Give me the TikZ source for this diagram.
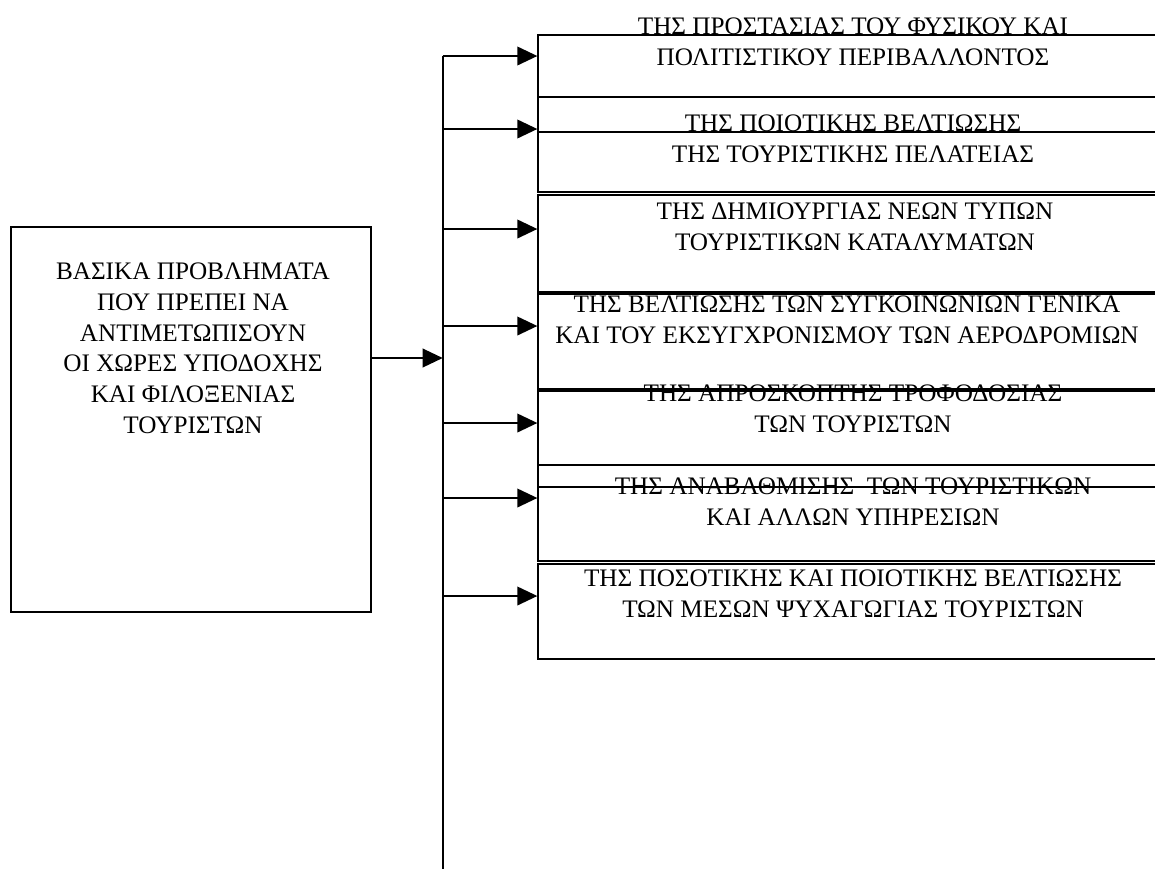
\documentclass[tikz,border=0pt]{standalone}
\usepackage{fontspec}
\setmainfont{Liberation Serif}
\usepackage{tikz}
\usetikzlibrary{arrows.meta}

\begin{document}
\begin{tikzpicture}[x=0.75pt,y=0.75pt,yscale=-1,xscale=1,
  goalbox/.style={draw,line width=1pt,minimum width=472.5pt,inner sep=0pt},
  probbox/.style={draw,line width=1pt,minimum width=270pt,minimum height=288.75pt,inner sep=0pt},
  lbl/.style={anchor=north,inner sep=0pt,align=center,font=\fontsize{18.9}{23}\selectfont},
  branch/.style={line width=1.2pt,-{Triangle[length=15pt,width=14pt]}}]
\useasboundingbox (0,0) rectangle (1155,869);

%Shape: Rectangle
\node[probbox] (lbox) at (191,419.5) {};
%Shape: Rectangle
\node[goalbox,minimum height=72.75pt] (b1) at (853,83.5) {};
%Shape: Rectangle
\node[goalbox,minimum height=71.25pt] (b2) at (853,144.5) {};
%Shape: Rectangle
\node[goalbox,minimum height=72.75pt] (b3) at (853,243.5) {};
%Shape: Rectangle
\node[goalbox,minimum height=71.25pt] (b4) at (853,341.5) {};
%Shape: Rectangle
\node[goalbox,minimum height=72pt] (b5) at (853,439) {};
%Shape: Rectangle
\node[goalbox,minimum height=72pt] (b6) at (853,513) {};
%Shape: Rectangle
\node[goalbox,minimum height=71.25pt] (b7) at (853,611.5) {};

%Straight Lines
\coordinate (j1) at (442.7,56);
\coordinate (j2) at (442.7,129);
\coordinate (j3) at (442.7,229);
\coordinate (j4) at (442.7,326);
\coordinate (j5) at (442.7,423);
\coordinate (j6) at (442.7,498);
\coordinate (j7) at (442.7,596);
\coordinate (jin) at (442.7,358);
\coordinate (bot) at (442.7,869);
\draw[line width=1.2pt] (j1) -- (bot);
\draw[branch] (jin -| lbox.east) -- (jin);
\draw[branch] (j1) -- (j1 -| b1.west);
\draw[branch] (j2) -- (j2 -| b2.west);
\draw[branch] (j3) -- (j3 -| b3.west);
\draw[branch] (j4) -- (j4 -| b4.west);
\draw[branch] (j5) -- (j5 -| b5.west);
\draw[branch] (j6) -- (j6 -| b6.west);
\draw[branch] (j7) -- (j7 -| b7.west);

% Text Node
\node[lbl] (ltext) at (193,263) {ΒΑΣΙΚΑ ΠΡΟΒΛΗΜΑΤΑ\\ΠΟΥ ΠΡΕΠΕΙ ΝΑ\\ΑΝΤΙΜΕΤΩΠΙΣΟΥΝ\\ΟΙ ΧΩΡΕΣ ΥΠΟΔΟΧΗΣ\\ΚΑΙ ΦΙΛΟΞΕΝΙΑΣ\\ΤΟΥΡΙΣΤΩΝ};
% Text Node
\node[lbl] (t1) at (853,18) {ΤΗΣ ΠΡΟΣΤΑΣΙΑΣ ΤΟΥ ΦΥΣΙΚΟΥ ΚΑΙ\\ΠΟΛΙΤΙΣΤΙΚΟΥ ΠΕΡΙΒΑΛΛΟΝΤΟΣ};
% Text Node
\node[lbl] (t2) at (853,115) {ΤΗΣ ΠΟΙΟΤΙΚΗΣ ΒΕΛΤΙΩΣΗΣ\\ΤΗΣ ΤΟΥΡΙΣΤΙΚΗΣ ΠΕΛΑΤΕΙΑΣ};
% Text Node
\node[lbl] (t3) at (855,203) {ΤΗΣ ΔΗΜΙΟΥΡΓΙΑΣ ΝΕΩΝ ΤΥΠΩΝ\\ΤΟΥΡΙΣΤΙΚΩΝ ΚΑΤΑΛΥΜΑΤΩΝ};
% Text Node
\node[lbl] (t4) at (847,296) {ΤΗΣ ΒΕΛΤΙΩΣΗΣ ΤΩΝ ΣΥΓΚΟΙΝΩΝΙΩΝ ΓΕΝΙΚΑ\\ΚΑΙ ΤΟΥ ΕΚΣΥΓΧΡΟΝΙΣΜΟΥ ΤΩΝ ΑΕΡΟΔΡΟΜΙΩΝ};
% Text Node
\node[lbl] (t5) at (853,385) {ΤΗΣ ΑΠΡΟΣΚΟΠΤΗΣ ΤΡΟΦΟΔΟΣΙΑΣ\\ΤΩΝ ΤΟΥΡΙΣΤΩΝ};
% Text Node
\node[lbl] (t6) at (853,478) {ΤΗΣ ΑΝΑΒΑΘΜΙΣΗΣ\ \ ΤΩΝ ΤΟΥΡΙΣΤΙΚΩΝ\\ΚΑΙ ΑΛΛΩΝ ΥΠΗΡΕΣΙΩΝ};
% Text Node
\node[lbl] (t7) at (853,570) {ΤΗΣ ΠΟΣΟΤΙΚΗΣ ΚΑΙ ΠΟΙΟΤΙΚΗΣ ΒΕΛΤΙΩΣΗΣ\\ΤΩΝ ΜΕΣΩΝ ΨΥΧΑΓΩΓΙΑΣ ΤΟΥΡΙΣΤΩΝ};

\end{tikzpicture}
\end{document}
